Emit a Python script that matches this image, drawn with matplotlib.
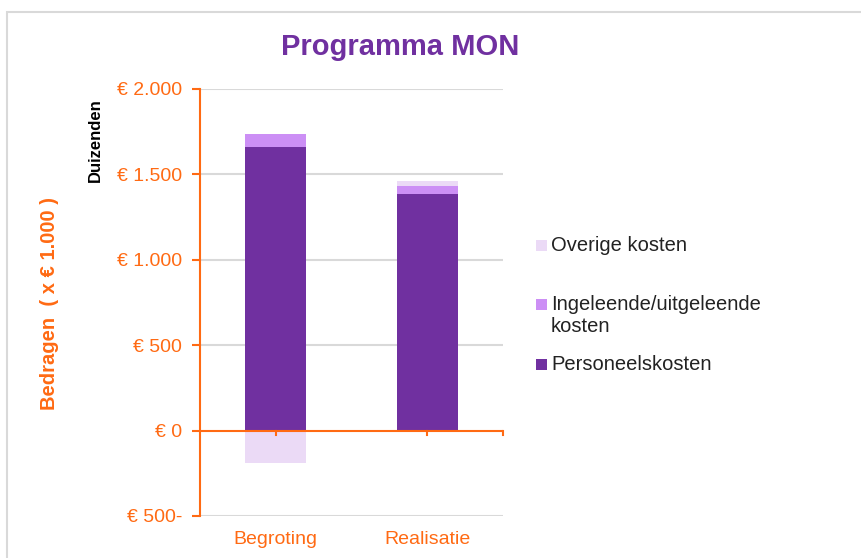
import matplotlib
matplotlib.use("Agg")
import matplotlib.pyplot as plt
from matplotlib.patches import Rectangle
from matplotlib.ticker import FuncFormatter

categories = ["Begroting", "Realisatie"]
personeel = [1662, 1385]
ingeleend = [76, 48]
overige = [-187, 29]
series_names = ["Personeelskosten", "Ingeleende/uitgeleende\nkosten", "Overige kosten"]
colors = ["#7030A0", "#CC8FF5", "#EBDAF6"]
y_ticks = [-500, 0, 500, 1000, 1500, 2000]

orange = "#FF6A13"
plt.rcParams['font.family'] = ['Liberation Sans', 'DejaVu Sans']

W, H = 862, 558
fig = plt.figure(figsize=(W / 100, H / 100), dpi=100)
# chart frame
fig.patches.append(Rectangle((7/W, -0.1), 1.2, 1 - 12/H + 0.1, transform=fig.transFigure,
                             fill=False, edgecolor="#D9D9D9", linewidth=1.5))

ax = fig.add_axes([200/W, 1 - 516/H, 303/W, 427/H])
x = list(range(len(categories)))
w = 0.4
b1 = ax.bar(x, personeel, w, color=colors[0], zorder=3, label=series_names[0])
b2 = ax.bar(x, ingeleend, w, bottom=personeel, color=colors[1], zorder=3, label=series_names[1])
bottom_ov = [p + i if o >= 0 else 0 for p, i, o in zip(personeel, ingeleend, overige)]
b3 = ax.bar(x, overige, w, bottom=bottom_ov, color=colors[2], zorder=3, label=series_names[2])

ax.set_xlim(-0.5, 1.5)
ax.set_ylim(-500, 2000)
ax.set_yticks(y_ticks)

def fmt(v, pos):
    v = int(round(v))
    s = f"{abs(v):,}".replace(",", ".")
    return f"€ {s}-" if v < 0 else f"€ {s}"
ax.yaxis.set_major_formatter(FuncFormatter(fmt))
ax.set_xticks(x)
ax.set_xticklabels(categories)

for v in y_ticks:
    if v != 0:
        ax.axhline(v, color="#D9D9D9", linewidth=1.5, zorder=1)
ax.axhline(0, color=orange, linewidth=1.5, zorder=4)
for xt in [0, 1, 1.5]:
    ax.plot([xt, xt], [0, -25], color=orange, linewidth=1.5, zorder=4, clip_on=False)

for s in ["top", "right", "bottom"]:
    ax.spines[s].set_visible(False)
ax.spines["left"].set_color(orange)
ax.spines["left"].set_linewidth(1.5)
ax.tick_params(axis="y", colors=orange, labelsize=14, length=6, width=1.5, direction="out", pad=7)
ax.tick_params(axis="x", colors=orange, labelsize=14, length=0, pad=11)
ax.set_facecolor("none")

fig.text(400/W, 1 - 47/H, "Programma MON", color="#7030A0", fontsize=21, fontweight="bold",
         ha="center", va="center")
fig.text(50/W, 1 - 304/H, "Bedragen  ( x € 1.000 )", color=orange, fontsize=14.5, fontweight="bold",
         rotation=90, ha="center", va="center")
fig.text(95/W, 1 - 140/H, "Duizenden", color="black", fontsize=12, fontweight="bold",
         rotation=90, ha="center", va="center")

# legend (drawn manually to match the evenly distributed entries)
legend_items = [(series_names[2], colors[2], 245.5), (series_names[1], colors[1], 304.5),
                (series_names[0], colors[0], 364.5)]
for name, col, yc in legend_items:
    fig.patches.append(Rectangle((536/W, 1 - (yc + 5.5)/H), 11/W, 11/H, transform=fig.transFigure,
                                 facecolor=col, edgecolor="none"))
    fig.text(551/W, 1 - (yc - 10)/H, name, color="#222222", fontsize=14.5, ha="left", va="top",
             linespacing=1.2)

fig.savefig("out.png", dpi=100)
